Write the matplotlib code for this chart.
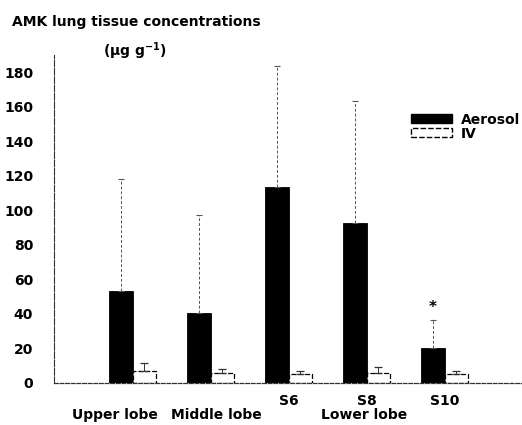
import matplotlib
matplotlib.use("Agg")
import matplotlib.pyplot as plt
from matplotlib.patches import Patch
import numpy as np

plt.rcParams['font.family'] = ['DejaVu Sans']
plt.rcParams['font.weight'] = 'bold'
plt.rcParams['mathtext.default'] = 'bf'

segments = ["Upper lobe", "Middle lobe", "S6", "S8", "S10"]
aerosol_mean = [53, 40.5, 113.5, 92.5, 20.5]
aerosol_sd = [65, 56.5, 70, 70.5, 16]
iv_mean = [7, 6, 5, 6, 5]
iv_sd = [4.5, 2, 2, 3.5, 2]
yticks = [0, 20, 40, 60, 80, 100, 120, 140, 160, 180]

W, H = 522, 425
FS = 10
fig = plt.figure(figsize=(W / 100, H / 100), dpi=100)
# axes placed in pixel units: left spine at x=54, baseline at y=383
ax = fig.add_axes([54 / W, (H - 383) / H, (W - 54) / W, (383 - 55) / H])

x = np.arange(len(segments))
width = 0.3

ax.bar(x - width / 2, aerosol_mean, width, color="black", edgecolor="black", linewidth=0.6)
ax.bar(x + width / 2, iv_mean, width, color="white", edgecolor="black", linewidth=0.9,
       linestyle=(0, (4, 1.5)))

eb1 = ax.errorbar(x - width / 2, aerosol_mean, yerr=[np.zeros(len(x)), aerosol_sd],
                  fmt="none", ecolor="#555555", elinewidth=0.7, capsize=2, capthick=0.8)
eb1[2][0].set_linestyle((0, (3, 2)))
eb2 = ax.errorbar(x + width / 2, iv_mean, yerr=[np.zeros(len(x)), iv_sd],
                  fmt="none", ecolor="#333333", elinewidth=0.7, capsize=3, capthick=0.9)

ax.text(x[4] - width / 2, aerosol_mean[4] + aerosol_sd[4] + 7, "*", ha="center",
        va="center", fontsize=11, fontweight="bold")

ax.set_xlim(-1.01, 4.99)
ax.set_ylim(0, 328 / 1.727)
ax.set_yticks(yticks)
ax.set_yticklabels([str(v) for v in yticks], fontsize=FS, fontweight="bold")
ax.tick_params(axis="y", length=0, pad=15)
ax.set_xticks([])

for s in ["top", "right"]:
    ax.spines[s].set_visible(False)
ax.spines["left"].set_linestyle((0, (6, 1.5)))
ax.spines["left"].set_linewidth(0.8)
ax.spines["left"].set_color("#333333")
ax.spines["bottom"].set_linestyle((0, (3, 1.5)))
ax.spines["bottom"].set_linewidth(0.9)
ax.spines["bottom"].set_color("#333333")

# segment labels under the axis (baselines given in pixels from the top)
def fig_y(px):
    return 1 - px / H

def data_to_figx(xd):
    return fig.transFigure.inverted().transform(ax.transData.transform((xd, 0)))[0]

for xi, name in zip(x[2:], segments[2:]):
    fig.text(data_to_figx(xi), fig_y(405), name, ha="center", va="baseline", fontsize=FS)
fig.text(115 / W, fig_y(419), segments[0], ha="center", va="baseline", fontsize=FS)
fig.text(216 / W, fig_y(419), segments[1], ha="center", va="baseline", fontsize=FS)
fig.text(364 / W, fig_y(419), "Lower lobe", ha="center", va="baseline", fontsize=FS)

fig.text(12 / W, fig_y(26), "AMK lung tissue concentrations", fontsize=FS, va="baseline", ha="left")
fig.text(103 / W, fig_y(56), r"(µg g$^{\mathregular{-1}}$)", fontsize=FS, va="baseline", ha="left")

handles = [Patch(facecolor="black", edgecolor="black", label="Aerosol"),
           Patch(facecolor="white", edgecolor="black", linestyle=(0, (4, 1.5)), label="IV")]
ax.legend(handles=handles, loc="upper left", bbox_to_anchor=((405 - 54) / (W - 54), (383 - 107) / 328),
          frameon=False, prop={"size": FS, "weight": "bold"}, handlelength=3.0, handleheight=0.55,
          handletextpad=0.6, labelspacing=0.0, borderaxespad=0)

fig.savefig("out.png", dpi=100)
